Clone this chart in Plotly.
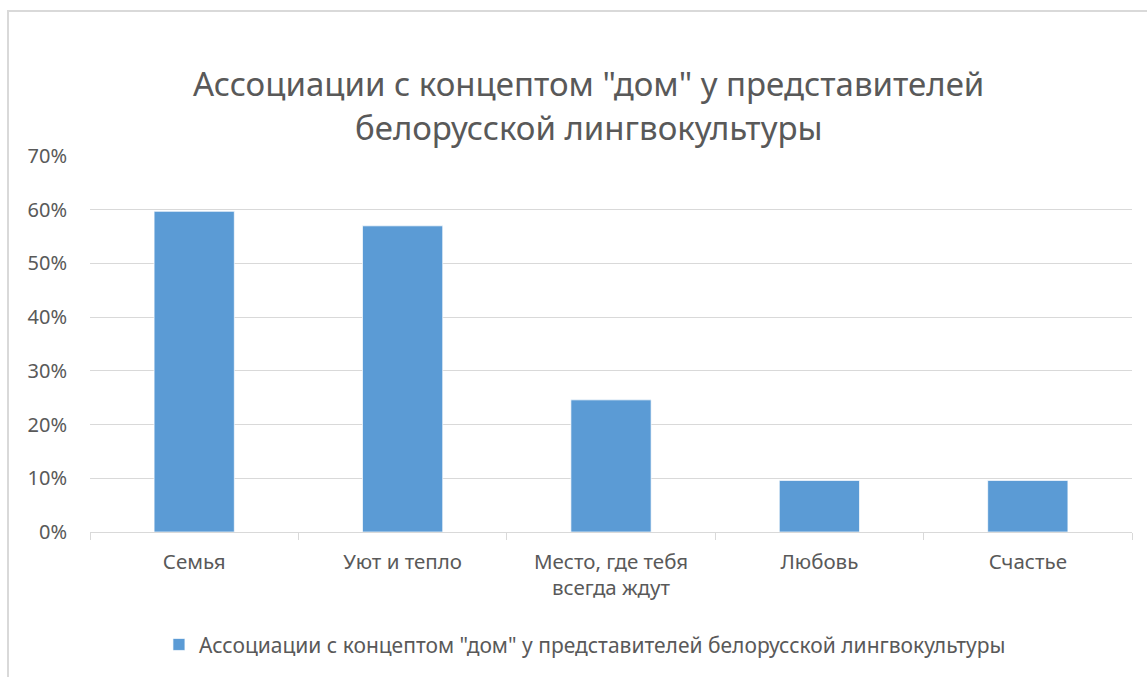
import plotly.graph_objects as go

categories = ["Семья", "Уют и тепло", "Место, где тебя<br>всегда ждут", "Любовь", "Счастье"]
values = [0.597, 0.57, 0.246, 0.096, 0.096]
series_name = "Ассоциации с концептом \"дом\" у представителей белорусской лингвокультуры"
title_lines = ["Ассоциации с концептом \"дом\" у представителей", "белорусской лингвокультуры"]
y_ticks = [0, 0.1, 0.2, 0.3, 0.4, 0.5, 0.6, 0.7]

FONT = "Noto Sans"
GREY = "#595959"

fig = go.Figure()
fig.add_trace(go.Bar(
    x=categories, y=values, name=series_name,
    marker=dict(color="#5b9bd5", line=dict(color="rgba(255,255,255,0.7)", width=1)),
    showlegend=True,
))

fig.update_layout(
    width=1147, height=677,
    margin=dict(l=90, r=15, t=156, b=145),
    paper_bgcolor="white", plot_bgcolor="white",
    font=dict(family=FONT, color=GREY, size=20),
    bargap=0.615,
    showlegend=True,
    legend=dict(orientation="h", x=0.475, xanchor="center", y=-0.30, yanchor="middle",
                font=dict(size=21, color=GREY), itemwidth=30),
    xaxis=dict(showline=True, linecolor="#d9d9d9", linewidth=1, ticks="outside",
               tickson="boundaries", ticklen=7, tickcolor="#d9d9d9",
               tickfont=dict(size=20.5, color=GREY), showgrid=False,
               ticklabelstandoff=11),
    yaxis=dict(range=[0, 0.7], tickvals=y_ticks, tickformat=".0%", showgrid=True,
               gridcolor="#d9d9d9", gridwidth=1, zeroline=False, showline=False,
               tickfont=dict(size=20, color=GREY), ticklabelstandoff=22),
    shapes=[dict(type="rect", xref="paper", yref="paper", x0=-0.0787, x1=1.2,
                 y0=-0.6, y1=1.3856, line=dict(color="#d9d9d9", width=2), layer="below")],
)
for txt, yy in zip(title_lines, [1.194, 1.0745]):
    fig.add_annotation(text=txt, xref="paper", yref="paper", x=0.4785, y=yy,
                       xanchor="center", yanchor="middle", showarrow=False,
                       font=dict(family=FONT, size=33, color=GREY))

fig.write_html("out.html")
